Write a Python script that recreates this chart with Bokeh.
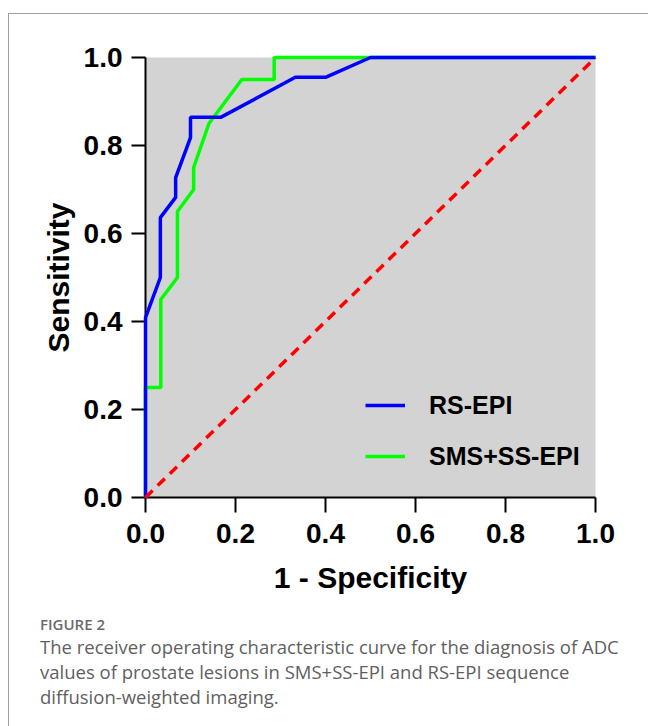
from bokeh.plotting import figure
from bokeh.models import Range1d, Legend, LegendItem, Div, Spacer, FixedTicker
from bokeh.layouts import column, row
from bokeh.embed import file_html
from bokeh.resources import INLINE

# ---- data ----
rs_fpr = [0.0, 0.0, 0.033, 0.033, 0.067, 0.067, 0.1, 0.1, 0.167, 0.333, 0.4, 0.5, 1.0]
rs_tpr = [0.0, 0.409, 0.5, 0.636, 0.682, 0.727, 0.818, 0.864, 0.864, 0.955, 0.955, 1.0, 1.0]

sms_fpr = [0.0, 0.0, 0.034, 0.034, 0.071, 0.071, 0.107, 0.107, 0.141, 0.214, 0.286, 0.286, 1.0]
sms_tpr = [0.0, 0.25, 0.25, 0.45, 0.5, 0.65, 0.7, 0.75, 0.85, 0.95, 0.95, 1.0, 1.0]

ref_x = [0.0, 1.0]
ref_y = [0.0, 1.0]

tick_values = [0.0, 0.2, 0.4, 0.6, 0.8, 1.0]
tick_labels = ["0.0", "0.2", "0.4", "0.6", "0.8", "1.0"]

series_names = ["RS-EPI", "SMS+SS-EPI"]
x_title = "1 - Specificity"
y_title = "Sensitivity"
fig_label = "FIGURE 2"
caption_lines = [
    "The receiver operating characteristic curve for the diagnosis of ADC",
    "values of prostate lesions in SMS+SS-EPI and RS-EPI sequence",
    "diffusion-weighted imaging.",
]

FONT = "Liberation Sans"

p = figure(
    width=639, height=590,
    x_range=Range1d(0, 1), y_range=Range1d(0, 1),
    output_backend="svg", toolbar_location=None,
    min_border_left=136, min_border_right=53,
    min_border_top=43, min_border_bottom=107,
)
p.background_fill_color = "#d3d3d3"
p.border_fill_color = "white"
p.outline_line_color = None
p.grid.visible = False

for ax in (p.xaxis[0], p.yaxis[0]):
    ax.ticker = FixedTicker(ticks=tick_values, minor_ticks=[])
    ax.major_label_overrides = {v: s for v, s in zip(tick_values, tick_labels)}
    ax.axis_line_width = 2
    ax.axis_line_color = "black"
    ax.major_tick_line_width = 2
    ax.major_tick_line_color = "black"
    ax.major_tick_in = 0
    ax.minor_tick_line_color = None
    ax.major_label_text_font = FONT
    ax.major_label_text_font_style = "bold"
    ax.major_label_text_font_size = "28px"
    ax.major_label_text_color = "black"
    ax.axis_label_text_font = FONT
    ax.axis_label_text_font_style = "bold"
    ax.axis_label_text_font_size = "30px"
    ax.axis_label_text_color = "black"

p.xaxis.major_tick_out = 15
p.xaxis.major_label_standoff = 11
p.xaxis.axis_label = x_title
p.xaxis.axis_label_standoff = 15

p.yaxis.major_tick_out = 14
p.yaxis.major_label_standoff = 9
p.yaxis.axis_label = y_title
p.yaxis.axis_label_standoff = 6

g = p.line(sms_fpr, sms_tpr, line_color="#00ff00", line_width=3.5, level="overlay")
b = p.line(rs_fpr, rs_tpr, line_color="#0000ff", line_width=3.5, level="overlay")
r = p.line(ref_x, ref_y, line_color="#ff0000", line_width=3.5, line_dash="10 7", level="overlay")

legend = Legend(
    items=[LegendItem(label=series_names[0], renderers=[b]),
           LegendItem(label=series_names[1], renderers=[g])],
    location=(220, 26),
    orientation="vertical",
    background_fill_alpha=0, border_line_color=None,
    padding=0, margin=0, spacing=21,
    glyph_width=40, glyph_height=30, label_height=30,
    label_standoff=24,
    label_text_font=FONT, label_text_font_style="bold",
    label_text_font_size="25px", label_text_color="black",
)
p.add_layout(legend)

cap_html = (
    '<div style="font-family:\'Open Sans\',sans-serif;padding:6px 0 0 26px;">'
    '<div style="font-size:15px;line-height:19px;font-weight:600;color:#6a6a6a;">'
    + fig_label + '</div>'
    '<div style="font-size:18.5px;line-height:25px;font-weight:400;color:#5f5f5f;white-space:nowrap;">'
    + "<br>".join(caption_lines) + '</div></div>'
)
cap = Div(text=cap_html, width=639, height=112)

inner = column(p, cap, styles={"border-top": "1px solid #a0a0a0", "border-left": "1px solid #a0a0a0"})
layout = row(Spacer(width=8, height=10), column(Spacer(height=13, width=640), inner))

open("out.html", "w").write(file_html(layout, INLINE))
